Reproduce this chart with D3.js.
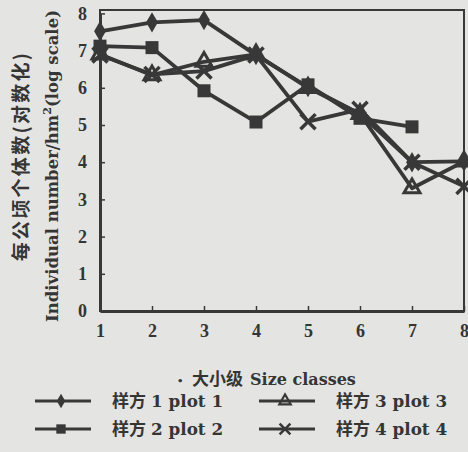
<!DOCTYPE html>
<html><head><meta charset="utf-8">
<script src="https://cdn.jsdelivr.net/npm/d3@7"></script>
<style>
html,body{margin:0;padding:0;background:#e4e4e2;}
svg{display:block;}
text{font-family:"DejaVu Serif","Noto Sans CJK SC",serif;font-weight:bold;fill:#353535;}
.cn{font-family:"Noto Sans CJK SC",sans-serif;font-weight:bold;}
.tick text{font-family:"Liberation Serif",serif;font-weight:bold;}
</style></head>
<body><svg id="c" width="468" height="452"></svg>
<script>
const sizeClasses = [1,2,3,4,5,6,7,8];
const plot1 = [7.52, 7.76, 7.82, 6.88, 6.02, 5.30, 4.00, 4.02];
const plot2 = [7.12, 7.08, 5.92, 5.08, 6.08, 5.18, 4.95];
const plot3 = [6.90, 6.34, 6.70, 6.90, 6.00, 5.30, 3.30, 4.02];
const plot4 = [6.88, 6.36, 6.45, 6.88, 5.09, 5.42, 4.00, 3.35];
const yTicks = [0,1,2,3,4,5,6,7,8];
const seriesCn = ["样方","样方","样方","样方"];
const seriesEn = ["1 plot 1","2 plot 2","3 plot 3","4 plot 4"];
const seriesShapes = ["diamond","square","triangle","cross"];
const seriesData = [plot1, plot2, plot3, plot4];

const ink = "#383838";
const svg = d3.select("#c");
const x = d3.scaleLinear().domain([1,8]).range([100,464]);
const y = d3.scaleLinear().domain([0,8]).range([311,13.4]);

// frame
svg.append("rect").attr("x",x(1)).attr("y",10).attr("width",x(8)-x(1)).attr("height",y(0)-10)
  .attr("fill","none").attr("stroke",ink).attr("stroke-width",2);

// axes with inside ticks
const gx = svg.append("g").attr("transform",`translate(0,${y(0)})`)
  .call(d3.axisBottom(x).tickValues(sizeClasses).tickSizeInner(-5).tickSizeOuter(0).tickPadding(12).tickFormat(d3.format("d")));
const gy = svg.append("g").attr("transform",`translate(${x(1)},0)`)
  .call(d3.axisLeft(y).tickValues(yTicks).tickSizeInner(-5).tickSizeOuter(0).tickPadding(13).tickFormat(d3.format("d")));
[gx,gy].forEach(g=>{
  g.select(".domain").attr("stroke",ink).attr("stroke-width",3);
  g.selectAll(".tick line").attr("stroke",ink).attr("stroke-width",1.5);
  g.selectAll(".tick text").style("font-size","18px").attr("fill","#333");
});
gx.selectAll(".tick text").attr("dy","0.75em");

// lines
const line = d3.line().x((d,i)=>x(sizeClasses[i])).y(d=>y(d));
function marker(g, shape, cx, cy, s){
  if(shape==="diamond"){
    g.append("path").attr("d",d3.symbol(d3.symbolDiamond,120*s*s)()).attr("transform",`translate(${cx},${cy})`).attr("fill",ink);
  } else if(shape==="square"){
    const h=6.5*s;
    g.append("rect").attr("x",cx-h).attr("y",cy-h).attr("width",2*h).attr("height",2*h).attr("fill",ink);
  } else if(shape==="triangle"){
    g.append("path").attr("d",d3.symbol(d3.symbolTriangle,110*s*s)()).attr("transform",`translate(${cx},${cy})`)
      .attr("fill","none").attr("stroke",ink).attr("stroke-width",3*s);
  } else {
    g.append("path").attr("d",d3.symbol(d3.symbolX,150*s*s)()).attr("transform",`translate(${cx},${cy})`)
      .attr("fill","none").attr("stroke",ink).attr("stroke-width",3.5*s);
  }
}
const plotG = svg.append("g");
seriesData.forEach((data,k)=>{
  plotG.append("path").datum(data).attr("d",line).attr("fill","none").attr("stroke",ink).attr("stroke-width",3.8).attr("stroke-linejoin","round");
});
seriesData.forEach((data,k)=>{
  data.forEach((v,i)=>marker(plotG, seriesShapes[k], x(sizeClasses[i]), y(v), 1));
});

// x axis title
svg.append("text").attr("x",177).attr("y",384).style("font-size","10px").text("•");
svg.append("text").attr("x",192).attr("y",385).attr("class","cn").style("font-size","17px").text("大小级");
svg.append("text").attr("x",250).attr("y",385).style("font-size","16px").text("Size classes");

// y axis titles
svg.append("text").attr("transform","translate(28,156) rotate(-90)").attr("text-anchor","middle")
  .attr("class","cn").style("font-size","19px").style("letter-spacing","2.3px").text("每公顷个体数(对数化)");
const t2 = svg.append("text").attr("transform","translate(58,166) rotate(-90)").attr("text-anchor","middle")
  .style("font-size","16.5px");
t2.append("tspan").text("Individual number/hm");
t2.append("tspan").attr("dy","-7").style("font-size","11px").text("2");
t2.append("tspan").attr("dy","7").text("(log scale)");

// legend
const legPos = [[35,401],[35,429],[259,401],[259,429]];
seriesEn.forEach((name,k)=>{
  const [lx,ly] = legPos[k];
  const g = svg.append("g");
  g.append("line").attr("x1",lx).attr("x2",lx+56).attr("y1",ly).attr("y2",ly).attr("stroke",ink).attr("stroke-width",3);
  marker(g, seriesShapes[k], lx+26, ly, 0.72);
  g.append("text").attr("x",lx+77).attr("y",ly+6).attr("class","cn").style("font-size","17px").text(seriesCn[k]);
  g.append("text").attr("x",lx+116).attr("y",ly+6).style("font-size","16.8px").text(name);
});
</script></body></html>
